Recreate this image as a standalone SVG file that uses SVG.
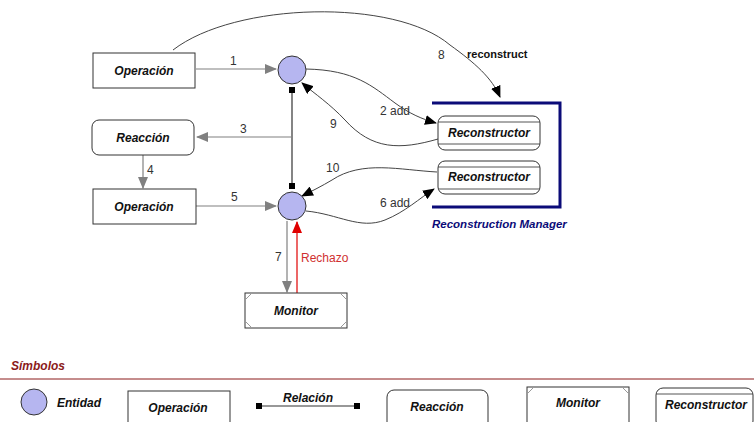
<svg xmlns="http://www.w3.org/2000/svg" width="754" height="422" viewBox="0 0 754 422">
  <style>
    .box { fill: #ffffff; stroke: #333333; stroke-width: 1; }
    .lbl { font-family: "Liberation Sans", Arial, sans-serif; font-size: 12px; font-weight: bold; font-style: italic; fill: #111111; text-anchor: middle; }
    .lbl-start { text-anchor: start; }
    .num { font-family: "Liberation Sans", Arial, sans-serif; font-size: 12px; fill: #333333; }
    .ent { fill: #b6b6f0; stroke: #333333; stroke-width: 1; }
    .gray { fill: none; stroke: #808080; stroke-width: 1.2; marker-end: url(#grayHead); }
    .curve { fill: none; stroke: #444444; stroke-width: 1; marker-end: url(#blackHead); }
    .rel { stroke: #333333; stroke-width: 1.2; }
    .corner { stroke: #999999; stroke-width: 1; }
    .inner { stroke: #555555; stroke-width: 1; }
  </style>
  <defs>
    <marker id="grayHead" markerWidth="12" markerHeight="10" refX="11" refY="5" orient="auto" markerUnits="userSpaceOnUse">
      <path d="M0,0 L12,5 L0,10 Z" fill="#808080"/>
    </marker>
    <marker id="blackHead" markerWidth="12" markerHeight="10" refX="11" refY="5" orient="auto" markerUnits="userSpaceOnUse">
      <path d="M0,0 L12,5 L0,10 Z" fill="#000000"/>
    </marker>
    <marker id="redHead" markerWidth="12" markerHeight="10" refX="11" refY="5" orient="auto" markerUnits="userSpaceOnUse">
      <path d="M0,0 L12,5 L0,10 Z" fill="#e00000"/>
    </marker>
  </defs>
  <rect width="754" height="422" fill="#ffffff"/>

  <!-- connectors -->
  <g id="connectors">
    <!-- 1, 5: operation to entity -->
    <line class="gray" x1="196" y1="69" x2="276" y2="69"/>
    <line class="gray" x1="196" y1="206" x2="276" y2="206"/>
    <!-- 3: relation to reaction -->
    <line class="gray" x1="291" y1="137" x2="197" y2="137"/>
    <!-- 4: reaction to operation -->
    <line class="gray" x1="143" y1="155" x2="143" y2="188"/>
    <!-- 7: entity to monitor -->
    <line class="gray" x1="287" y1="221" x2="287" y2="292"/>
    <!-- rejection: monitor back to entity -->
    <line x1="297" y1="293" x2="297" y2="222" stroke="#e00000" stroke-width="1.2" marker-end="url(#redHead)"/>
    <!-- relation between the two entities -->
    <line class="rel" x1="292" y1="90" x2="292" y2="186"/>
    <rect x="289" y="87" width="6" height="6" fill="#000000"/>
    <rect x="289" y="183" width="6" height="6" fill="#000000"/>
    <!-- 8: reconstruct -->
    <path class="curve" d="M173,50 C 235,2 395,-2 450,45 C 475,63 492,78 500,97"/>
    <!-- 2 add -->
    <path class="curve" d="M306,69 C 355,70 372,86 395,103 C 410,114 422,119 436,123"/>
    <!-- 9 -->
    <path class="curve" d="M438,139 C 400,150 372,150 345,120 C 330,104 315,94 302,83"/>
    <!-- 10 -->
    <path class="curve" d="M437,172 C 400,170 362,160 332,180 C 322,186 312,191 302,196"/>
    <!-- 6 add -->
    <path class="curve" d="M306,211 C 338,214 360,230 385,220 C 405,212 420,198 434,189"/>

    <text class="num" x="230" y="65">1</text>
    <text class="num" x="380" y="115">2 add</text>
    <text class="num" x="240" y="133">3</text>
    <text class="num" x="147" y="174">4</text>
    <text class="num" x="231" y="201">5</text>
    <text class="num" x="380" y="207">6 add</text>
    <text class="num" x="275" y="261">7</text>
    <text class="num" x="438" y="59">8</text>
    <text class="num" x="330" y="128">9</text>
    <text class="num" x="326" y="172">10</text>
    <text x="467" y="58" font-family="Liberation Sans, Arial, sans-serif" font-size="11px" font-weight="bold" fill="#111111">reconstruct</text>
    <text x="301" y="262" font-family="Liberation Sans, Arial, sans-serif" font-size="12px" fill="#d03030">Rechazo</text>
  </g>

  <!-- nodes -->
  <g id="operacion1">
    <rect class="box" x="93" y="53" width="102" height="35"/>
    <text class="lbl" x="144" y="75">Operación</text>
  </g>
  <g id="reaccion">
    <rect class="box" x="92" y="120" width="102" height="35" rx="7"/>
    <text class="lbl" x="143" y="142">Reacción</text>
  </g>
  <g id="operacion2">
    <rect class="box" x="93" y="189" width="103" height="35"/>
    <text class="lbl" x="144" y="211">Operación</text>
  </g>
  <g id="entidad1">
    <circle class="ent" cx="292" cy="70" r="14"/>
  </g>
  <g id="entidad2">
    <circle class="ent" cx="292" cy="206" r="14"/>
  </g>
  <g id="monitor">
    <rect class="box" x="245" y="293" width="102" height="35"/>
    <line class="corner" x1="245" y1="300" x2="252" y2="293"/>
    <line class="corner" x1="340" y1="293" x2="347" y2="300"/>
    <line class="corner" x1="245" y1="321" x2="252" y2="328"/>
    <line class="corner" x1="340" y1="328" x2="347" y2="321"/>
    <text class="lbl" x="296" y="315">Monitor</text>
  </g>
  <g id="reconstruction-manager">
    <path d="M432,103 L560,103 L560,207 L432,207" fill="none" stroke="#0b0b78" stroke-width="3"/>
    <text x="432" y="228" font-family="Liberation Sans, Arial, sans-serif" font-size="11.5px" font-weight="bold" font-style="italic" fill="#0b0b78">Reconstruction Manager</text>
  </g>
  <g id="reconstructor1">
    <rect class="box" x="438" y="116" width="102" height="34" rx="7"/>
    <line class="inner" x1="438" y1="122" x2="540" y2="122"/>
    <line class="inner" x1="438" y1="144" x2="540" y2="144"/>
    <text class="lbl" x="489" y="137">Reconstructor</text>
  </g>
  <g id="reconstructor2">
    <rect class="box" x="438" y="161" width="102" height="33" rx="7"/>
    <line class="inner" x1="438" y1="167" x2="540" y2="167"/>
    <line class="inner" x1="438" y1="189" x2="540" y2="189"/>
    <text class="lbl" x="489" y="181">Reconstructor</text>
  </g>

  <!-- legend -->
  <g id="legend">
    <text x="11" y="370" font-family="Liberation Sans, Arial, sans-serif" font-size="12px" font-weight="bold" font-style="italic" fill="#8b1a1a">Símbolos</text>
    <line x1="0" y1="379" x2="754" y2="379" stroke="#8b1a1a" stroke-width="1"/>
    <circle class="ent" cx="34" cy="402" r="13"/>
    <text class="lbl lbl-start" x="57" y="407">Entidad</text>
    <rect class="box" x="128" y="391" width="102" height="40"/>
    <text class="lbl" x="178" y="412">Operación</text>
    <line class="rel" x1="259" y1="406" x2="357" y2="406"/>
    <rect x="256" y="403" width="6" height="6" fill="#000000"/>
    <rect x="354" y="403" width="6" height="6" fill="#000000"/>
    <text class="lbl" x="308" y="402">Relación</text>
    <rect class="box" x="387" y="390" width="101" height="40" rx="7"/>
    <text class="lbl" x="437" y="411">Reacción</text>
    <rect class="box" x="527" y="387" width="102" height="40"/>
    <line class="corner" x1="527" y1="394" x2="534" y2="387"/>
    <line class="corner" x1="622" y1="387" x2="629" y2="394"/>
    <text class="lbl" x="578" y="407">Monitor</text>
    <rect class="box" x="656" y="388" width="97" height="40" rx="7"/>
    <line class="inner" x1="656" y1="394" x2="753" y2="394"/>
    <text class="lbl" x="706" y="409">Reconstructor</text>
  </g>
</svg>
